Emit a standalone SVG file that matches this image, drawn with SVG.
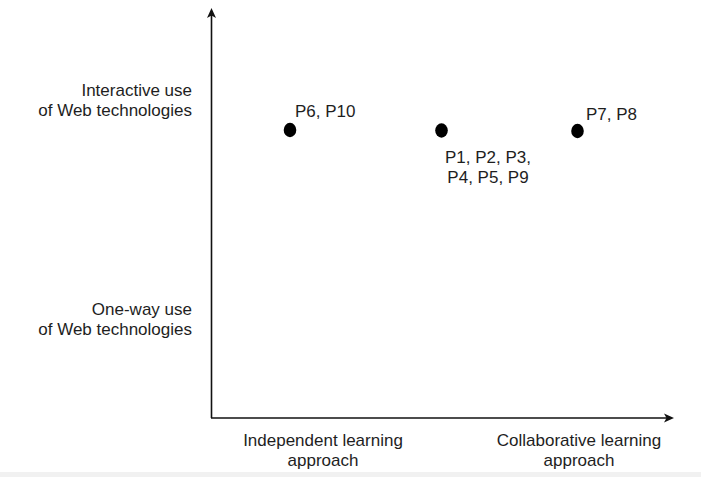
<svg xmlns="http://www.w3.org/2000/svg" width="701" height="477" viewBox="0 0 701 477">
  <style>
    .t { font-family: "Liberation Sans", Arial, sans-serif; font-size: 17px; fill: #1e1e1e; }
    .r { text-anchor: end; }
    .m { text-anchor: middle; }
    .s { text-anchor: start; }
    .dot { fill: #000; }
    .axis { stroke: #111; stroke-width: 1.6; fill: none; }
  </style>
  <defs>
    <marker id="arr" viewBox="0 0 10 10" refX="7" refY="5" markerWidth="10" markerHeight="10" markerUnits="userSpaceOnUse" orient="auto">
      <path d="M0,0.5 L10,5 L0,9.5 L2.5,5 z" fill="#111"/>
    </marker>
  </defs>
  <rect width="701" height="477" fill="#fff"/>
  <g id="connectors">
    <path class="axis" d="M211.5 418 V11" marker-end="url(#arr)"/>
    <path class="axis" d="M211 418 H671" marker-end="url(#arr)"/>
  </g>
  <g id="label-interactive">
    <text class="t r" x="192" y="96">Interactive use</text>
    <text class="t r" x="192" y="116">of Web technologies</text>
  </g>
  <g id="label-oneway">
    <text class="t r" x="192" y="315">One-way use</text>
    <text class="t r" x="192" y="335">of Web technologies</text>
  </g>
  <g id="label-independent">
    <text class="t m" x="323" y="446">Independent learning</text>
    <text class="t m" x="323" y="466">approach</text>
  </g>
  <g id="label-collaborative">
    <text class="t m" x="579" y="446">Collaborative learning</text>
    <text class="t m" x="579" y="466">approach</text>
  </g>
  <g id="node-p6-p10">
    <ellipse class="dot" cx="290" cy="130" rx="6.3" ry="7.2"/>
    <text class="t s" x="295" y="117">P6, P10</text>
  </g>
  <g id="node-p1-p9">
    <ellipse class="dot" cx="441.5" cy="130.5" rx="6.3" ry="7.2"/>
    <text class="t m" x="488" y="163">P1, P2, P3,</text>
    <text class="t m" x="488" y="183">P4, P5, P9</text>
  </g>
  <g id="node-p7-p8">
    <ellipse class="dot" cx="577.5" cy="131" rx="6.3" ry="7.2"/>
    <text class="t s" x="586" y="120">P7, P8</text>
  </g>
  <rect x="0" y="472" width="701" height="5" fill="#f1f1f1"/>
</svg>
